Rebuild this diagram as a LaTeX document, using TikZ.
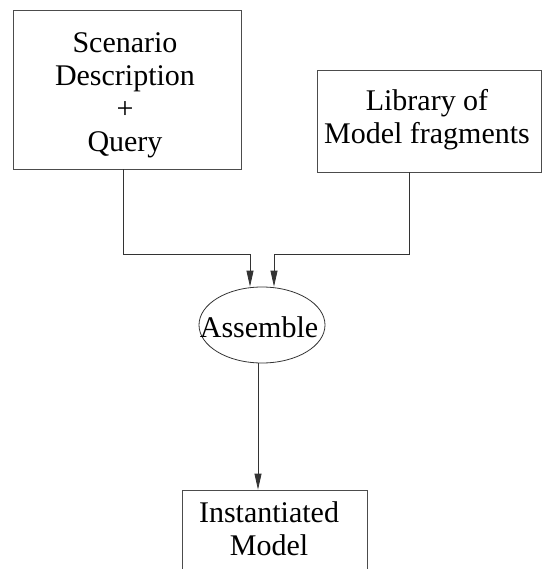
\documentclass[tikz,border=0pt]{standalone}
\usepackage{fontspec}
\setmainfont{Liberation Serif}
\usetikzlibrary{arrows.meta,shapes.geometric}

\tikzset{
  frame/.style={draw=black!70, line width=0.8pt, inner sep=0pt},
  lbl/.style={inner sep=0pt, align=center,
    font=\fontsize{30}{33.2}\selectfont},
  arr/.style={draw=black!80, line width=0.8pt,
    -{Triangle[length=16pt,width=7pt]}},
}

\begin{document}
\begin{tikzpicture}[x=1pt,y=1pt]
  \useasboundingbox (0,0) rectangle (545,-569);

  % input boxes
  \node[frame, minimum width=228, minimum height=159] (scen) at (127,-89.5) {};
  \node[lbl] (scentxt) at (125,-95.5) {Scenario\\Description\\+\\Query};

  \node[frame, minimum width=224, minimum height=102] (lib) at (429,-121) {};
  \node[lbl] (libtxt) at (427,-119.5) {Library of\\Model fragments};

  % assembly step
  \node[draw=black!80, line width=0.8pt, ellipse, inner sep=0pt,
        minimum width=126, minimum height=76] (asm) at (262,-325) {};
  \node[lbl] (asmtxt) at (259,-326.75) {Assemble};

  % output box, running past the lower edge
  \begin{scope}
    \clip (0,0) rectangle (545,-569);
    \node[frame, minimum width=185, minimum height=110] (inst) at (274.5,-545) {};
  \end{scope}
  \node[lbl] (insttxt) at (269,-528.75) {Instantiated\\Model};

  % connectors
  \coordinate (jl) at (250,-254);
  \coordinate (jr) at (274,-254);
  \draw[arr] ([xshift=-4pt]scen.south) |- (jl) -- (jl |- asm.north);
  \draw[arr] ([xshift=-20pt]lib.south) |- (jr) -- (jr |- asm.north);
  \draw[arr] ([xshift=-4pt]asm.south) -- ([xshift=-4pt]asm.south |- inst.north);
\end{tikzpicture}
\end{document}
